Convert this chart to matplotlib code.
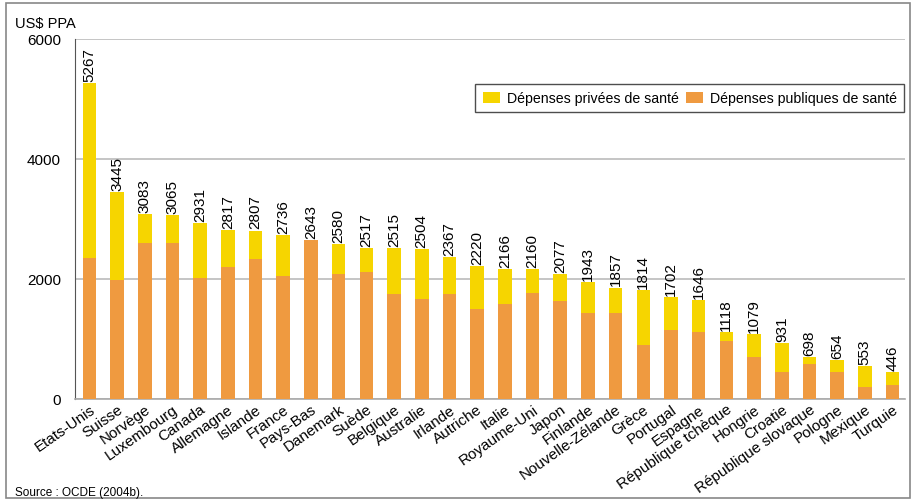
import matplotlib
matplotlib.use('Agg')
import matplotlib.pyplot as plt
import numpy as np
from matplotlib.patches import Rectangle

plt.rcParams['font.family'] = ['Liberation Sans', 'DejaVu Sans']

# countries, total spending and public part (US$ PPA)
pays = ['Etats-Unis', 'Suisse', 'Norvège', 'Luxembourg', 'Canada', 'Allemagne',
        'Islande', 'France', 'Pays-Bas', 'Danemark', 'Suède', 'Belgique',
        'Australie', 'Irlande', 'Autriche', 'Italie', 'Royaume-Uni', 'Japon',
        'Finlande', 'Nouvelle-Zélande', 'Grèce', 'Portugal', 'Espagne',
        'République tchèque', 'Hongrie', 'Croatie', 'République slovaque',
        'Pologne', 'Mexique', 'Turquie']
total = [5267, 3445, 3083, 3065, 2931, 2817, 2807, 2736, 2643, 2580, 2517, 2515,
         2504, 2367, 2220, 2166, 2160, 2077, 1943, 1857, 1814, 1702, 1646,
         1118, 1079, 931, 698, 654, 553, 446]
publiques = [2350, 1983, 2600, 2600, 2017, 2206, 2333, 2050, 2643, 2083, 2117, 1750,
             1667, 1750, 1500, 1583, 1767, 1633, 1433, 1433, 900, 1150, 1117,
             967, 700, 450, 583, 450, 200, 233]
privees = [t - p for t, p in zip(total, publiques)]

c_pub = '#EF9A40'
c_priv = '#F6D500'

fig = plt.figure(figsize=(9.14, 5.02), dpi=100)
ax = fig.add_axes([75/914, 1 - 400/502, 830/914, 360/502])

x = np.arange(len(pays))
w = 0.49
ax.bar(x, privees, w, bottom=publiques, color=c_priv, label='Dépenses privées de santé', zorder=3)
ax.bar(x, publiques, w, color=c_pub, label='Dépenses publiques de santé', zorder=3)

for xi, t in zip(x, total):
    ax.annotate(str(t), (xi, t), xytext=(0, 1.5), textcoords='offset points',
                rotation=90, ha='center', va='bottom', fontsize=11)

ax.set_xlim(-0.52, len(pays) - 0.55)
ax.set_ylim(0, 6000)
ax.set_yticks([0, 2000, 4000, 6000])
ax.yaxis.grid(True, color='#bbbbbb', linewidth=1.2, zorder=0)
ax.tick_params(axis='y', length=0, labelsize=11, pad=10)
ax.tick_params(axis='x', length=0, labelsize=11, pad=2)
ax.set_xticks(x)
ax.set_xticklabels(pays, rotation=35, ha='right', rotation_mode='anchor')
for s in ['top', 'right']:
    ax.spines[s].set_visible(False)
ax.spines['left'].set_color('#555555')
ax.spines['bottom'].set_color('#aaaaaa')
ax.spines['bottom'].set_linewidth(1.2)

leg = ax.legend(loc='center right', bbox_to_anchor=(1.007, 0.835), ncol=2, fontsize=10.2,
                frameon=True, fancybox=False, handlelength=1.2, handleheight=0.9,
                columnspacing=0.5, handletextpad=0.5, borderpad=0.5)
leg.get_frame().set_edgecolor('#222222')
leg.get_frame().set_linewidth(1.0)

fig.text(15/914, 1 - 24/502, 'US$ PPA', fontsize=10.5, va='center', ha='left')
fig.text(15/914, 1 - 493/502, 'Source : OCDE (2004b).', fontsize=8.5, va='center', ha='left')

fig.patches.append(Rectangle((6/914, 3/502), 904/914, 495/502, transform=fig.transFigure,
                             fill=False, edgecolor='#888888', linewidth=1.2))

fig.savefig('out.png', dpi=100)
